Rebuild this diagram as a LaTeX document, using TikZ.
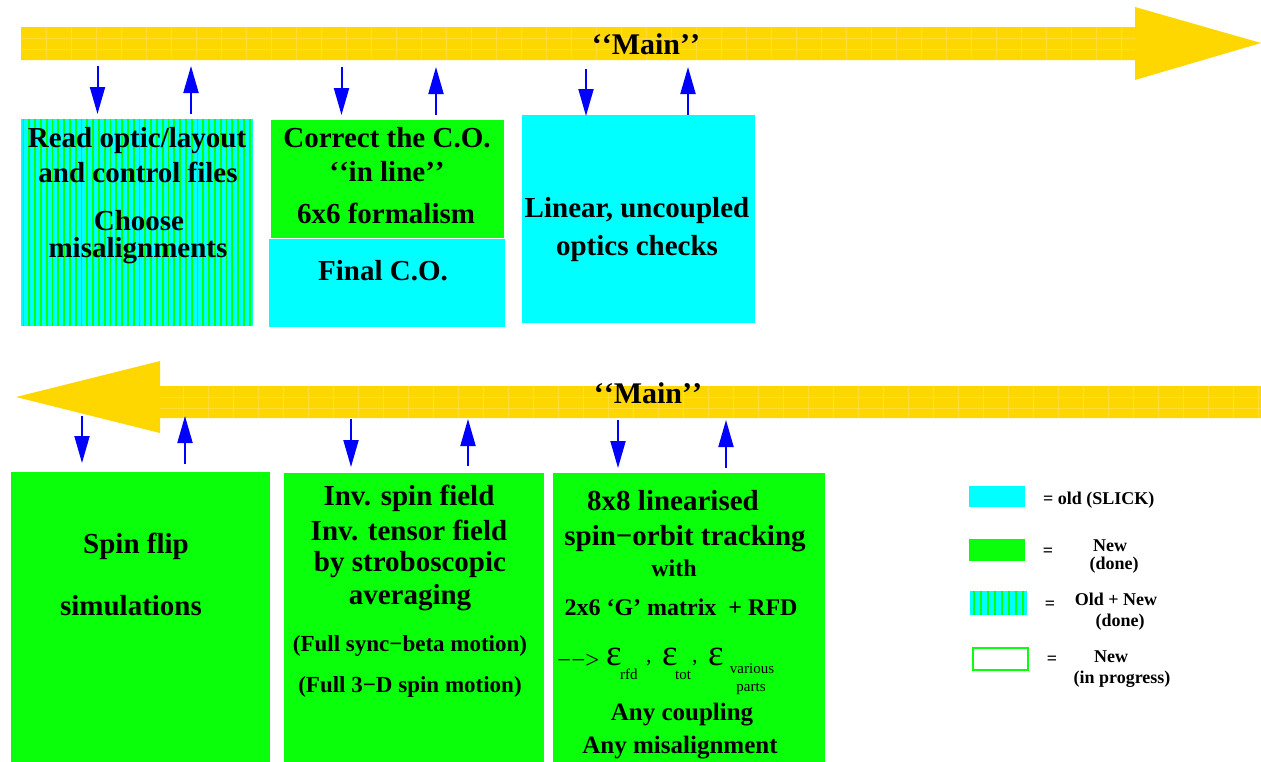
\documentclass[tikz,border=0pt]{standalone}
\usepackage{fontspec}
\setmainfont{Liberation Serif}
\usetikzlibrary{arrows.meta}
\definecolor{goldc}{RGB}{255,215,0}
\definecolor{gridc}{RGB}{255,223,55}
\definecolor{cyanc}{RGB}{0,255,255}
\definecolor{greenc}{RGB}{10,255,10}
\definecolor{bluec}{RGB}{0,0,255}
\begin{document}
\begin{tikzpicture}[x=1pt,y=-1pt,
  boxnode/.style={draw=none,inner sep=0pt,outer sep=0pt,anchor=north west},
  cyanbox/.style={boxnode,fill=cyanc},
  greenbox/.style={boxnode,fill=greenc},
  big/.style={font=\fontsize{29}{35}\selectfont\bfseries,anchor=base,inner sep=0pt},
  mid/.style={font=\fontsize{24}{30}\selectfont\bfseries,anchor=base,inner sep=0pt},
  par/.style={font=\fontsize{23}{28}\selectfont\bfseries,anchor=base,inner sep=0pt},
  leg/.style={font=\fontsize{18}{22}\selectfont\bfseries,anchor=base,inner sep=0pt},
  mainlbl/.style={font=\fontsize{30}{36}\selectfont\bfseries,anchor=base,inner sep=0pt},
  bluearr/.style={draw=bluec,line width=2pt,-{Triangle[length=27pt,width=15pt]}},
  gridline/.style={draw=gridc,line width=0.5pt}
]
\useasboundingbox (0,0) rectangle (1261,761);

% ---------- top yellow arrow ----------
\fill[goldc] (21,27) -- (1135,27) -- (1135,7) -- (1261,43) -- (1135,80) -- (1135,60) -- (21,60) -- cycle;
\foreach \gx in {46,71,...,1121} {\draw[gridline] (\gx,27) -- (\gx,60);}
\draw[gridline] (21,38) -- (1135,38);
\draw[gridline] (21,49) -- (1135,49);
\node[mainlbl] (main1) at (646,54) {‘\kern0pt‘Main’\kern0pt’};

% ---------- bottom yellow arrow ----------
\fill[goldc] (1261,386) -- (160,386) -- (160,361) -- (16,397) -- (160,433) -- (160,418) -- (1261,418) -- cycle;
\foreach \gx in {183,208,...,1258} {\draw[gridline] (\gx,386) -- (\gx,418);}
\draw[gridline] (160,397) -- (1261,397);
\draw[gridline] (160,408) -- (1261,408);
\node[mainlbl] (main2) at (648,403) {‘\kern0pt‘Main’\kern0pt’};

% ---------- top boxes ----------
\node[cyanbox,minimum width=232pt,minimum height=207pt] (b1) at (21,119) {};
\begin{scope}
  \clip (21,119) rectangle (253,326);
  \foreach \sx in {23.5,29.3,...,253} {\draw[greenc,line width=1.7pt] (\sx,119) -- (\sx,326);}
\end{scope}
\node[big] (b1t1) at (137,147) {Read optic/layout};
\node[big] (b1t2) at (138,182) {and control files};
\node[big] (b1t3) at (139,230) {Choose};
\node[big] (b1t4) at (138,257) {misalignments};

\node[greenbox,minimum width=233pt,minimum height=118pt] (b2) at (271,120) {};
\node[cyanbox,minimum width=236pt,minimum height=88pt] (b3) at (269,239) {};
\node[big] (b2t1) at (387,147) {Correct the C.O.};
\node[big] (b2t2) at (387,181) {‘\kern0pt‘in line’\kern0pt’};
\node[big] (b2t3) at (386,223) {6x6 formalism};
\node[big] (b3t1) at (383,280) {Final C.O.};

\node[cyanbox,minimum width=233pt,minimum height=208pt] (b4) at (522,115) {};
\node[big] (b4t1) at (637,217) {Linear, uncoupled};
\node[big] (b4t2) at (637,255) {optics checks};

% ---------- top small arrows ----------
\coordinate (ta1) at (97.5,66);  \coordinate (tb1) at (97.5,114);
\coordinate (ta2) at (191,114);  \coordinate (tb2) at (191,66);
\coordinate (ta3) at (341.5,67); \coordinate (tb3) at (341.5,115);
\coordinate (ta4) at (436,115);  \coordinate (tb4) at (436,67);
\coordinate (ta5) at (586,69);   \coordinate (tb5) at (586,116);
\coordinate (ta6) at (688,115);  \coordinate (tb6) at (688,67);
\foreach \i in {1,...,6} {\draw[bluearr] (ta\i) -- (tb\i);}

% ---------- bottom boxes ----------
\node[greenbox,minimum width=259pt,minimum height=290pt] (b5) at (11,472) {};
\node[big] (b5t1) at (136,553) {Spin flip};
\node[big] (b5t2) at (131,615) {simulations};

\node[greenbox,minimum width=260pt,minimum height=289pt] (b6) at (284,473) {};
\node[big] (b6t1) at (409,505) {Inv. spin field};
\node[big] (b6t2) at (409,540) {Inv. tensor field};
\node[big] (b6t3) at (410,571) {by stroboscopic};
\node[big] (b6t4) at (410,604) {averaging};
\node[par] (b6t5) at (410,651) {(Full sync−beta motion)};
\node[par] (b6t6) at (410,692) {(Full 3−D spin motion)};

\node[greenbox,minimum width=272pt,minimum height=289pt] (b7) at (553,473) {};
\node[big] (b7t1) at (673,510) {8x8 linearised};
\node[big] (b7t2) at (685,545) {spin−orbit tracking};
\node[mid] (b7t3) at (674,576) {with};
\node[mid] (b7t4) at (681,615) {2x6 ‘G’ matrix\ \ + RFD};
\node[font=\fontsize{25}{30}\selectfont,anchor=base west,inner sep=0pt] (e0) at (557,668) {−−>};
\node[font=\fontsize{37}{40}\selectfont,anchor=base west,inner sep=0pt] (e1) at (606,665) {ε};
\node[font=\fontsize{15}{18}\selectfont,anchor=base west,inner sep=0pt] (s1) at (620,679) {rfd};
\node[font=\fontsize{22}{26}\selectfont,anchor=base west,inner sep=0pt] (c1) at (646,662) {,};
\node[font=\fontsize{37}{40}\selectfont,anchor=base west,inner sep=0pt] (e2) at (662,665) {ε};
\node[font=\fontsize{15}{18}\selectfont,anchor=base west,inner sep=0pt] (s2) at (675,679) {tot};
\node[font=\fontsize{22}{26}\selectfont,anchor=base west,inner sep=0pt] (c2) at (692,662) {,};
\node[font=\fontsize{37}{40}\selectfont,anchor=base west,inner sep=0pt] (e3) at (708,665) {ε};
\node[font=\fontsize{15}{18}\selectfont,anchor=base,inner sep=0pt] (s3) at (752,673) {various};
\node[font=\fontsize{15}{18}\selectfont,anchor=base,inner sep=0pt] (s4) at (751,691) {parts};
\node[big,font=\fontsize{25}{30}\selectfont\bfseries] (b7t5) at (682,720) {Any coupling};
\node[big,font=\fontsize{25}{30}\selectfont\bfseries] (b7t6) at (680,753) {Any misalignment};

% ---------- bottom small arrows ----------
\coordinate (ba1) at (82,416);   \coordinate (bb1) at (82,463);
\coordinate (ba2) at (185,464);  \coordinate (bb2) at (185,416);
\coordinate (ba3) at (351,419);  \coordinate (bb3) at (351,467);
\coordinate (ba4) at (468,466);  \coordinate (bb4) at (468,419);
\coordinate (ba5) at (618,420);  \coordinate (bb5) at (618,468);
\coordinate (ba6) at (726,468);  \coordinate (bb6) at (726,420);
\foreach \i in {1,...,6} {\draw[bluearr] (ba\i) -- (bb\i);}

% ---------- legend ----------
\node[cyanbox,minimum width=56pt,minimum height=21pt] (l1) at (969,486) {};
\node[leg,anchor=base west] (l1t) at (1043,504) {= old (SLICK)};

\node[greenbox,minimum width=56pt,minimum height=22pt] (l2) at (969,539) {};
\node[leg] (l2e) at (1048,556) {=};
\node[leg] (l2t1) at (1110,551) {New};
\node[leg] (l2t2) at (1114,569) {(done)};

\node[cyanbox,minimum width=57pt,minimum height=24pt] (l3) at (970,591) {};
\begin{scope}
  \clip (970,591) rectangle (1027,615);
  \foreach \sx in {974,981,...,1027} {\draw[greenc,line width=1.7pt] (\sx,591) -- (\sx,615);}
\end{scope}
\node[leg] (l3e) at (1050,609) {=};
\node[leg] (l3t1) at (1116,605) {Old + New};
\node[leg] (l3t2) at (1120,626) {(done)};

\node[boxnode,draw=greenc,line width=2.2pt,fill=white,minimum width=55pt,minimum height=22pt] (l4) at (973,648) {};
\node[leg] (l4e) at (1052,664) {=};
\node[leg] (l4t1) at (1111,662) {New};
\node[leg] (l4t2) at (1122,683) {(in progress)};
\end{tikzpicture}
\end{document}
